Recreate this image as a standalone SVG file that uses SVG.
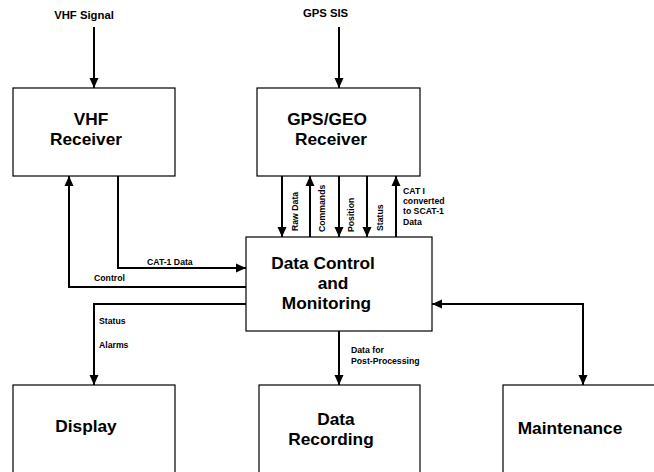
<svg xmlns="http://www.w3.org/2000/svg" width="654" height="472" viewBox="0 0 654 472">
<defs>
<marker id="ah" viewBox="0 0 10 10" refX="10" refY="5" markerWidth="5" markerHeight="5" orient="auto-start-reverse" markerUnits="strokeWidth">
<path d="M0,0.5 L10,5 L0,9.5 Z" fill="#000"/>
</marker>
<style>
.box{fill:#fff;stroke:#000;stroke-width:1.2}
.t{font-family:"Liberation Sans",Arial,sans-serif;font-weight:bold;fill:#000}
.big{font-size:17.3px}
.sm{font-size:8.7px}
.top{font-size:11.3px}
.c{fill:none;stroke:#000;stroke-width:2}
</style>
</defs>
<rect width="654" height="472" fill="#fff"/>
<g id="connectors">
<path class="c" d="M94,27 V88" marker-end="url(#ah)"/>
<path class="c" d="M339,27 V88" marker-end="url(#ah)"/>
<path class="c" d="M282,176 V237" marker-end="url(#ah)"/>
<path class="c" d="M310,237 V176" marker-end="url(#ah)"/>
<path class="c" d="M339,176 V237" marker-end="url(#ah)"/>
<path class="c" d="M367,176 V237" marker-end="url(#ah)"/>
<path class="c" d="M396,237 V176" marker-end="url(#ah)"/>
<path class="c" d="M118,176 V268 H246" marker-end="url(#ah)"/>
<path class="c" d="M246,287 H69 V176" marker-end="url(#ah)"/>
<path class="c" d="M246,304 H94 V385" marker-end="url(#ah)"/>
<path class="c" d="M339,331 V385" marker-end="url(#ah)"/>
<path class="c" d="M432,304 H583 V385" marker-start="url(#ah)" marker-end="url(#ah)"/>
<text class="t sm" x="147" y="265">CAT-1 Data</text>
<text class="t sm" x="94" y="281">Control</text>
<text class="t sm" x="99" y="324">Status</text>
<text class="t sm" x="99" y="348">Alarms</text>
<text class="t sm" x="351" y="353">Data for</text>
<text class="t sm" x="351" y="364">Post-Processing</text>
<text class="t sm" transform="translate(298,231) rotate(-90)">Raw Data</text>
<text class="t sm" transform="translate(325,232) rotate(-90)">Commands</text>
<text class="t sm" transform="translate(354,232) rotate(-90)">Position</text>
<text class="t sm" transform="translate(383,231) rotate(-90)">Status</text>
<text class="t sm" x="403" y="194">CAT I</text>
<text class="t sm" x="403" y="204">converted</text>
<text class="t sm" x="403" y="214">to SCAT-1</text>
<text class="t sm" x="403" y="224.5">Data</text>
</g>
<g id="vhf-signal"><text class="t top" x="84" y="19" text-anchor="middle">VHF Signal</text></g>
<g id="gps-sis"><text class="t top" x="325.5" y="17" text-anchor="middle">GPS SIS</text></g>
<g id="vhf-receiver">
<rect class="box" x="13" y="88" width="162" height="88"/>
<text class="t big" x="91" y="125" text-anchor="middle">VHF</text>
<text class="t big" x="86" y="145" text-anchor="middle">Receiver</text>
</g>
<g id="gps-receiver">
<rect class="box" x="257" y="88" width="163" height="88"/>
<text class="t big" x="327" y="125" text-anchor="middle">GPS/GEO</text>
<text class="t big" x="331" y="145" text-anchor="middle">Receiver</text>
</g>
<g id="data-control">
<rect class="box" x="246" y="237" width="186" height="94"/>
<text class="t big" x="323" y="269" text-anchor="middle">Data Control</text>
<text class="t big" x="333" y="289" text-anchor="middle">and</text>
<text class="t big" x="326.5" y="309" text-anchor="middle">Monitoring</text>
</g>
<g id="display">
<rect class="box" x="13" y="385" width="162" height="100"/>
<text class="t big" x="86" y="432" text-anchor="middle">Display</text>
</g>
<g id="data-recording">
<rect class="box" x="259" y="385" width="161" height="100"/>
<text class="t big" x="336" y="425" text-anchor="middle">Data</text>
<text class="t big" x="331" y="445" text-anchor="middle">Recording</text>
</g>
<g id="maintenance">
<rect class="box" x="503" y="385" width="160" height="100"/>
<text class="t big" x="570" y="434" text-anchor="middle">Maintenance</text>
</g>
</svg>
